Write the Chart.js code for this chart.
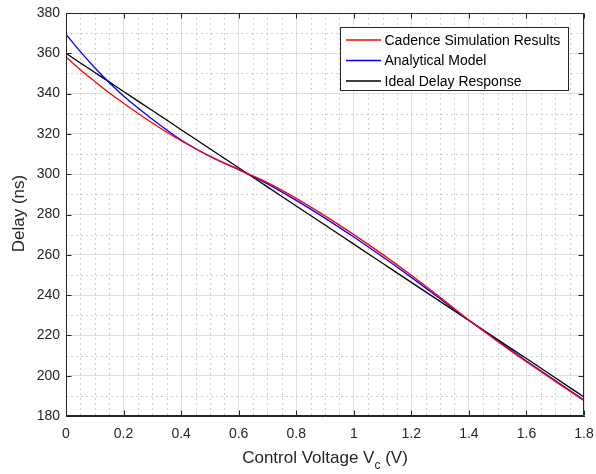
<!DOCTYPE html>
<html>
<head>
<meta charset="utf-8">
<script src="https://cdn.jsdelivr.net/npm/chart.js@4/dist/chart.umd.min.js"></script>
<style>
html,body{margin:0;padding:0;background:#fff;}
#c{display:block;}
</style>
</head>
<body>
<canvas id="c" width="596" height="474" style="width:596px;height:474px"></canvas>
<script>
// ---- data ----
const voltage = [0, 0.05, 0.1, 0.15, 0.2, 0.3, 0.4, 0.5, 0.6, 0.7, 0.8, 0.9, 1.0, 1.1, 1.2, 1.3, 1.4, 1.5, 1.6, 1.7, 1.8];
const cadenceDelay = [358.2, 351.8, 346.0, 340.4, 335.2, 325.4, 316.6, 309.0, 302.3, 295.8, 288.0, 279.3, 270.0, 260.2, 249.8, 238.9, 227.6, 217.0, 206.9, 197.2, 187.6];
const analyticalDelay = [369.5, 360.8, 352.8, 345.5, 338.8, 327.3, 317.0, 308.8, 302.3, 295.2, 287.0, 278.2, 268.8, 259.0, 248.8, 238.2, 227.5, 217.3, 207.3, 197.6, 187.9];
const idealDelay = [360.0, 355.2, 350.5, 345.8, 341.0, 331.6, 322.1, 312.6, 303.2, 293.7, 284.2, 274.8, 265.3, 255.8, 246.3, 236.9, 227.4, 217.9, 208.5, 199.0, 189.4];
const seriesLabels = ['Cadence Simulation Results', 'Analytical Model', 'Ideal Delay Response'];
const xTicks = [0, 0.2, 0.4, 0.6, 0.8, 1, 1.2, 1.4, 1.6, 1.8];
const yTicks = [180, 200, 220, 240, 260, 280, 300, 320, 340, 360, 380];
const xTitleMain = 'Control Voltage V';
const xTitleSub = 'c';
const xTitleEnd = ' (V)';
const yTitle = 'Delay (ns)';

const FONT = '"Liberation Sans", Arial, Helvetica, sans-serif';
const AXIS = '#262626';
const MAJOR = '#dfdfdf';
const MINOR = '#cfcfcf';

function pts(ys){ return voltage.map((v,i)=>({x:v, y:ys[i]})); }

const framePlugin = {
  id: 'frame',
  beforeDatasetsDraw(chart){
    const {ctx, chartArea:a, scales:{x, y}} = chart;
    ctx.save();
    ctx.strokeStyle = MINOR; ctx.lineWidth = 1; ctx.setLineDash([2,3]);
    for (let i=0;i<xTicks.length-1;i++){
      for (let k=1;k<4;k++){
        const v = xTicks[i] + (xTicks[i+1]-xTicks[i])*k/4;
        const px = Math.round(x.getPixelForValue(v)) + 0.5;
        ctx.beginPath(); ctx.moveTo(px, a.top); ctx.lineTo(px, a.bottom); ctx.stroke();
      }
    }
    for (let i=0;i<yTicks.length-1;i++){
      const v = (yTicks[i] + yTicks[i+1])/2;
      const py = Math.round(y.getPixelForValue(v)) + 0.5;
      ctx.beginPath(); ctx.moveTo(a.left, py); ctx.lineTo(a.right, py); ctx.stroke();
    }
    ctx.restore();
  },
  afterDatasetsDraw(chart){
    const {ctx, chartArea:a, scales:{x, y}} = chart;
    ctx.save();
    // box
    ctx.strokeStyle = AXIS; ctx.lineWidth = 1; ctx.setLineDash([]);
    const L = Math.round(a.left)+0.5, R = Math.round(a.right)-0.5, T = Math.round(a.top)+0.5, B = Math.round(a.bottom)-0.5;
    ctx.beginPath(); ctx.rect(L, T, R-L, B-T); ctx.stroke();
    // inner tick marks
    const tl = 5;
    xTicks.forEach(v=>{
      const px = Math.round(x.getPixelForValue(v))+0.5;
      ctx.beginPath(); ctx.moveTo(px, B); ctx.lineTo(px, B-tl); ctx.moveTo(px, T); ctx.lineTo(px, T+tl); ctx.stroke();
    });
    yTicks.forEach(v=>{
      const py = Math.round(y.getPixelForValue(v))+0.5;
      ctx.beginPath(); ctx.moveTo(L, py); ctx.lineTo(L+tl, py); ctx.moveTo(R, py); ctx.lineTo(R-tl, py); ctx.stroke();
    });
    // legend
    const lx = 340.5, ly = 27.5, lw = 228, lh = 63;
    ctx.fillStyle = '#fff'; ctx.fillRect(lx, ly, lw, lh);
    ctx.strokeStyle = AXIS; ctx.strokeRect(lx, ly, lw, lh);
    ctx.font = '14px ' + FONT; ctx.textBaseline = 'middle'; ctx.textAlign = 'left';
    chart.data.datasets.forEach((ds, i)=>{
      const ry = 40 + i*20.5;
      ctx.strokeStyle = ds.borderColor; ctx.lineWidth = 1.3;
      ctx.beginPath(); ctx.moveTo(346, ry); ctx.lineTo(381, ry); ctx.stroke();
      ctx.fillStyle = '#000'; ctx.fillText(ds.label, 384.5, ry+1);
    });
    // x title with subscript
    const cx = (a.left + a.right)/2;
    const fMain = '17px ' + FONT, fSub = '12px ' + FONT;
    ctx.font = fMain; const w1 = ctx.measureText(xTitleMain).width, w3 = ctx.measureText(xTitleEnd).width;
    ctx.font = fSub; const w2 = ctx.measureText(xTitleSub).width;
    let sx = cx - (w1+w2+w3)/2; const by = 463;
    ctx.fillStyle = AXIS; ctx.textBaseline = 'alphabetic';
    ctx.font = fMain; ctx.fillText(xTitleMain, sx, by); sx += w1;
    ctx.font = fSub; ctx.fillText(xTitleSub, sx, by+6); sx += w2;
    ctx.font = fMain; ctx.fillText(xTitleEnd, sx, by);
    // y title
    ctx.translate(19, (a.top + a.bottom)/2 - 1);
    ctx.rotate(-Math.PI/2);
    ctx.textAlign = 'center'; ctx.textBaseline = 'middle';
    ctx.font = fMain; ctx.fillText(yTitle, 0, 0);
    ctx.restore();
  }
};

const fmt = v => String(Number(Number(v).toFixed(2)));

new Chart(document.getElementById('c'), {
  type: 'line',
  data: {
    datasets: [
      {label: seriesLabels[0], data: pts(cadenceDelay), borderColor: '#ff0000'},
      {label: seriesLabels[1], data: pts(analyticalDelay), borderColor: '#0000ff'},
      {label: seriesLabels[2], data: pts(idealDelay), borderColor: '#000000'}
    ].map(d => Object.assign(d, {borderWidth: 1.3, pointRadius: 0, fill: false, cubicInterpolationMode: 'monotone'}))
  },
  options: {
    responsive: false,
    devicePixelRatio: 1,
    animation: false,
    layout: {padding: {top: 13, right: 12, left: 0, bottom: 0}},
    plugins: {legend: {display: false}, tooltip: {enabled: false}},
    scales: {
      x: {
        type: 'linear', min: 0, max: 1.8,
        afterBuildTicks: s => { s.ticks = xTicks.map(v => ({value: v})); },
        afterFit: s => { s.height = 58; s.paddingLeft = 0; s.paddingRight = 0; },
        ticks: {callback: fmt, font: {family: FONT, size: 14}, color: AXIS, padding: 10, maxRotation: 0, autoSkip: false},
        grid: {color: MAJOR, drawTicks: false},
        border: {color: AXIS}
      },
      y: {
        type: 'linear', min: 180, max: 380,
        afterBuildTicks: s => { s.ticks = yTicks.map(v => ({value: v})); },
        afterFit: s => { s.width = 66; s.paddingTop = 0; s.paddingBottom = 0; },
        ticks: {callback: fmt, font: {family: FONT, size: 14}, color: AXIS, padding: 6, autoSkip: false},
        grid: {color: MAJOR, drawTicks: false},
        border: {color: AXIS}
      }
    }
  },
  plugins: [framePlugin]
});
</script>
</body>
</html>
